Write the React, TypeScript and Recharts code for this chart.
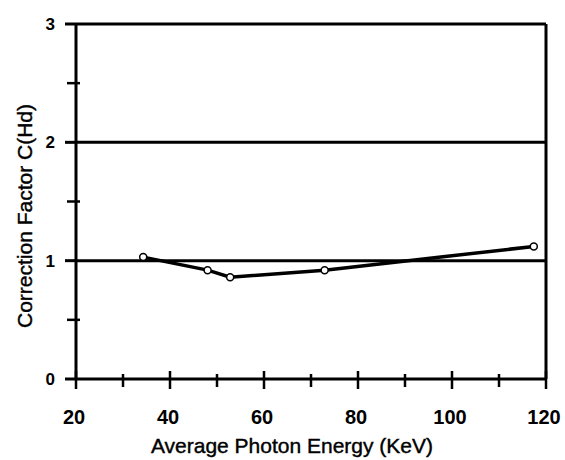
import React from "react";
import { LineChart, Line, XAxis, YAxis, ReferenceLine } from "recharts";

const energy = [34.3, 48.0, 52.8, 72.9, 117.4];
const factor = [1.03, 0.92, 0.86, 0.92, 1.12];
const xTicks = [20, 30, 40, 50, 60, 70, 80, 90, 100, 110, 120];
const xLabelTicks = [20, 40, 60, 80, 100, 120];
const yTicks = [0, 0.5, 1, 1.5, 2, 2.5, 3];
const yLabelTicks = [0, 1, 2, 3];
const gridValues = [1, 2, 3];

const data = energy.map((e, i) => ({ x: e, y: factor[i] }));

const FONT = "'Liberation Sans', Arial, sans-serif";

const XTick = (props: any) => {
  const { x, y, payload } = props;
  const v = payload.value;
  const major = xLabelTicks.includes(v);
  return (
    <g>
      <line
        x1={x}
        x2={x}
        y1={major ? y - 8 : y - 5}
        y2={major ? y + 10 : y + 8}
        stroke="#000"
        strokeWidth={2.5}
      />
      {major && (
        <text
          x={x - 2}
          y={y + 45}
          textAnchor="middle"
          fontFamily={FONT}
          fontSize={20}
          fontWeight="bold"
          fill="#000"
        >
          {v}
        </text>
      )}
    </g>
  );
};

const YTick = (props: any) => {
  const { x, y, payload } = props;
  const v = payload.value;
  const major = yLabelTicks.includes(v);
  return (
    <g>
      {major ? (
        <line x1={x - 11} x2={x} y1={y} y2={y} stroke="#000" strokeWidth={3} />
      ) : (
        <line x1={x - 9} x2={x + 4} y1={y} y2={y} stroke="#000" strokeWidth={2.5} />
      )}
      {major && (
        <text
          x={x - 21}
          y={y}
          dy="0.36em"
          textAnchor="end"
          fontFamily={FONT}
          fontSize={17}
          fontWeight="bold"
          fill="#000"
        >
          {v}
        </text>
      )}
    </g>
  );
};

export default function App() {
  return (
    <div style={{ position: "absolute", left: 0, top: 0, width: 565, height: 460, background: "#fff" }}>
      <LineChart
        width={565}
        height={460}
        data={data}
        margin={{ top: 24, right: 19, bottom: 0, left: 0 }}
      >
        <XAxis
          type="number"
          dataKey="x"
          domain={[20, 120]}
          ticks={xTicks}
          interval={0}
          height={81}
          tickSize={0}
          tickMargin={0}
          tickLine={false}
          axisLine={{ stroke: "#000", strokeWidth: 3 }}
          tick={<XTick />}
          allowDataOverflow
        />
        <YAxis
          type="number"
          domain={[0, 3]}
          ticks={yTicks}
          interval={0}
          width={76}
          tickSize={0}
          tickMargin={0}
          tickLine={false}
          axisLine={{ stroke: "#000", strokeWidth: 3 }}
          tick={<YTick />}
          allowDataOverflow
        />
        {gridValues.map((g) => (
          <ReferenceLine key={g} y={g} stroke="#000" strokeWidth={3} />
        ))}
        <ReferenceLine x={120} stroke="#000" strokeWidth={3} />
        <Line
          type="linear"
          dataKey="y"
          stroke="#000"
          strokeWidth={3.5}
          dot={{ r: 3.5, fill: "#fff", stroke: "#000", strokeWidth: 1.5 }}
          isAnimationActive={false}
        />
        <text
          x={292}
          y={453}
          textAnchor="middle"
          fontFamily={FONT}
          fontSize={21}
          fill="#000"
          stroke="#000"
          strokeWidth={0.4}
        >
          Average Photon Energy (KeV)
        </text>
        <text
          x={24}
          y={216}
          transform="rotate(-90 24 216)"
          textAnchor="middle"
          dominantBaseline="central"
          fontFamily={FONT}
          fontSize={21}
          fill="#000"
          stroke="#000"
          strokeWidth={0.4}
        >
          Correction Factor C(Hd)
        </text>
      </LineChart>
    </div>
  );
}
